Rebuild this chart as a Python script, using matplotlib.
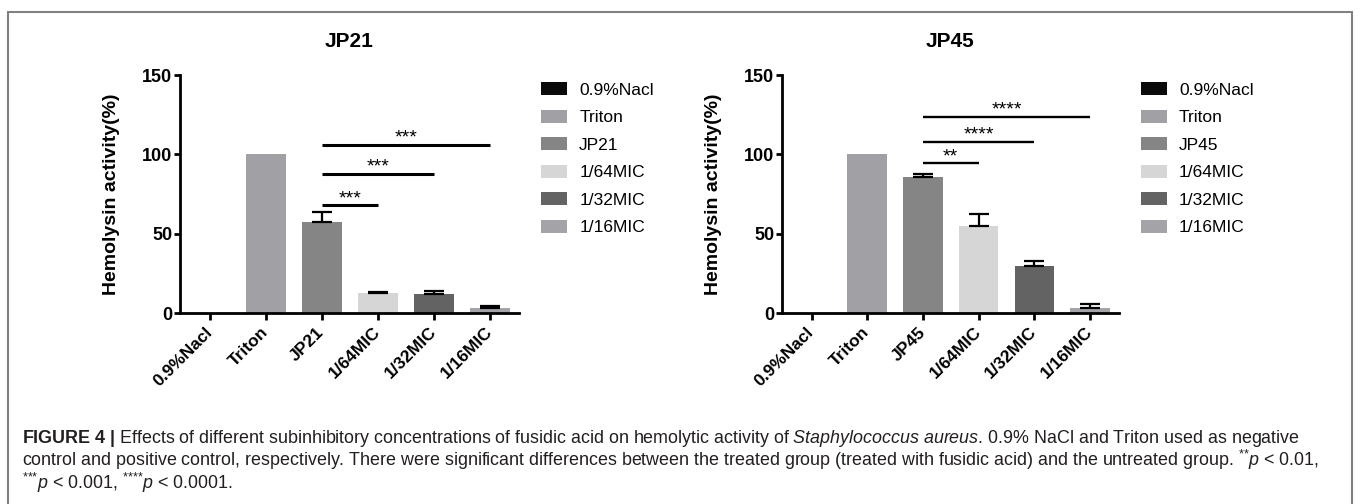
import matplotlib
matplotlib.use("Agg")
import matplotlib.pyplot as plt
from matplotlib.patches import Rectangle

plt.rcParams["font.family"] = ["Liberation Sans", "DejaVu Sans"]
plt.rcParams["mathtext.fontset"] = "custom"
plt.rcParams["mathtext.rm"] = "Liberation Sans"
plt.rcParams["mathtext.it"] = "Liberation Sans:italic"
plt.rcParams["mathtext.bf"] = "Liberation Sans:bold"

# data
cats_jp21 = ["0.9%Nacl", "Triton", "JP21", "1/64MIC", "1/32MIC", "1/16MIC"]
means_jp21 = [0, 100, 57.2, 12.6, 12.0, 3.2]
errs_jp21 = [0, 0, 6.5, 0.7, 1.9, 1.2]
sig_y_jp21 = [68, 87.7, 106]
sig_txt_jp21 = ["***", "***", "***"]

cats_jp45 = ["0.9%Nacl", "Triton", "JP45", "1/64MIC", "1/32MIC", "1/16MIC"]
means_jp45 = [0, 100, 85.7, 54.8, 29.6, 3.2]
errs_jp45 = [0, 0, 1.9, 7.6, 3.2, 2.5]
sig_y_jp45 = [94.5, 107.8, 123.5]
sig_txt_jp45 = ["**", "****", "****"]

sig_pairs = [(2, 3), (2, 4), (2, 5)]
y_ticks = [0, 50, 100, 150]
bar_colors = ["#0a0a0a", "#a1a0a5", "#858585", "#d6d6d6", "#636363", "#a4a3a8"]

caption = [
    r"$\mathbf{FIGURE\ 4\ |}$ Effects of different subinhibitory concentrations of fusidic acid on hemolytic activity of "
    r"$\mathit{Staphylococcus\ aureus}$. 0.9% NaCl and Triton used as negative",
    r"control and positive control, respectively. There were significant differences between the treated group "
    r"(treated with fusidic acid) and the untreated group. ${}^{{*}{*}}\mathit{p}$ < 0.01,",
    r"${}^{{*}{*}{*}}\mathit{p}$ < 0.001, ${}^{{*}{*}{*}{*}}\mathit{p}$ < 0.0001.",
]

W, H = 1360, 504
fig = plt.figure(figsize=(W / 100, H / 100), dpi=100)


def panel(rect, title, cats, means, errs, sig_y, sig_txt, sig_lw):
    ax = fig.add_axes(rect)
    for i, (c, m, e) in enumerate(zip(cats, means, errs)):
        ax.bar(i, m, width=0.71, color=bar_colors[i], label=c, zorder=2)
        if e > 0:
            ax.errorbar(i, m, yerr=[[0], [e]], fmt="none", ecolor="black",
                        elinewidth=1.6, capsize=7, capthick=1.6, zorder=3)
    for (a, b), y, t in zip(sig_pairs, sig_y, sig_txt):
        ax.plot([a, b], [y, y], color="black", lw=sig_lw, solid_capstyle="butt")
        ax.annotate(t, xy=((a + b) / 2, y), xytext=(0, 1.5), textcoords="offset points",
                    ha="center", va="baseline", fontsize=14)
    ax.set_xlim(-0.53, 5.52)
    ax.set_ylim(0, 150)
    ax.set_yticks(y_ticks, labels=[str(v) for v in y_ticks], fontweight="bold", fontsize=13)
    ax.set_xticks(range(len(cats)), labels=cats, rotation=45, ha="right", va="center",
                  rotation_mode="anchor", fontweight="bold", fontsize=12.5)
    ax.tick_params(axis="y", length=4, width=2, pad=1.5)
    ax.tick_params(axis="x", length=5, width=2, pad=7)
    for s in ["top", "right"]:
        ax.spines[s].set_visible(False)
    for s in ["left", "bottom"]:
        ax.spines[s].set_linewidth(2)
    ax.set_title(title, fontsize=15, fontweight="bold", pad=20)
    ax.set_ylabel("Hemolysin activity(%)", fontsize=14, fontweight="bold", va="center")
    ax.yaxis.set_label_coords(-0.203, 0.5)
    ax.legend(loc="upper left", bbox_to_anchor=(1.065, 0.97), frameon=False, fontsize=12.5,
              handlelength=1.5, handleheight=0.8, handletextpad=0.7, labelspacing=0.68,
              borderaxespad=0, borderpad=0)
    return ax


bottom = (H - 313) / H
height = 238 / H
panel([180 / W, bottom, 339 / W, height], "JP21", cats_jp21, means_jp21, errs_jp21,
      sig_y_jp21, sig_txt_jp21, 2.2)
panel([782 / W, bottom, 337 / W, height], "JP45", cats_jp45, means_jp45, errs_jp45,
      sig_y_jp45, sig_txt_jp45, 1.7)

# frame round the figure
fig.add_artist(Rectangle((8 / W, -0.1), (1352 - 8) / W, (H - 12) / H + 0.1,
                         transform=fig.transFigure, fill=False, edgecolor="#808080", lw=1.5))

for k, line in enumerate(caption):
    fig.text(22 / W, 1 - (443 + 23 * k) / H, line, fontsize=12.9, color="#231f20",
             ha="left", va="baseline")

fig.savefig("out.png", dpi=100)
